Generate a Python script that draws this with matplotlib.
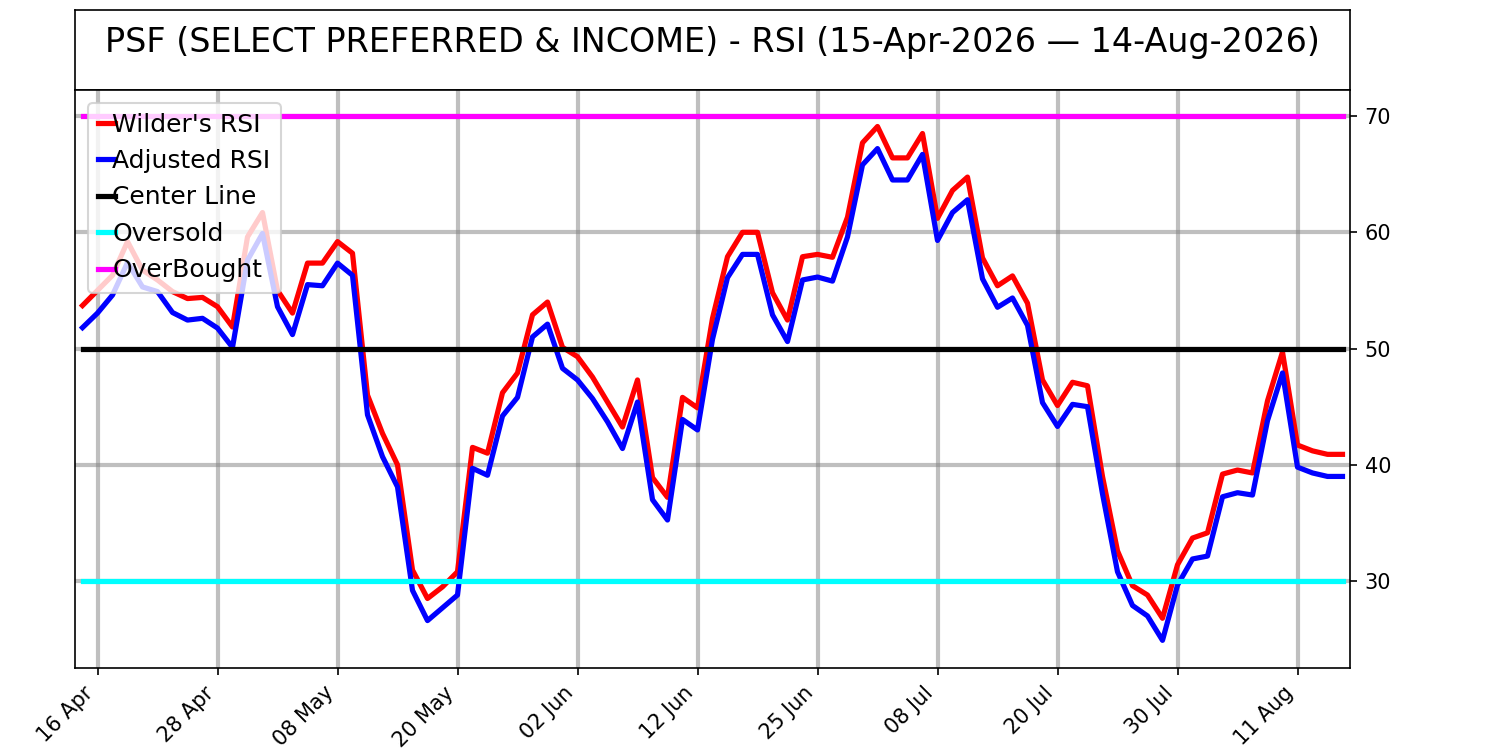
import matplotlib
matplotlib.use("Agg")

import matplotlib.pyplot as plt
import pandas as pd

# ==============================
# DATA
# ==============================
start_date = "2026-04-15"
end_date = "2026-08-14"
market_holidays = ["2026-05-25", "2026-06-19", "2026-07-03"]

wilder_rsi = [
    53.7, 55.0, 56.3, 59.2, 56.75, 55.9, 54.9, 54.3, 54.4, 53.6, 51.85, 59.6, 61.7, 55.0, 53.05,
    57.35, 57.35, 59.2, 58.2, 46.0, 42.7, 40.0, 30.95, 28.5, 29.5, 30.8, 41.5, 41.0,
    46.2, 47.9, 52.9, 54.0, 50.1, 49.3, 47.55, 45.4, 43.25, 47.3, 38.9, 37.2, 45.8, 44.9, 52.6,
    57.9, 60.0, 60.0, 54.8, 52.45, 57.9, 58.1, 57.85, 61.3, 67.7, 69.1, 66.4, 66.4, 68.5,
    61.2, 63.6, 64.75, 57.8, 55.4, 56.25, 53.9, 47.3, 45.1, 47.1, 46.8, 39.0, 32.6,
    29.6, 28.8, 26.8, 31.4, 33.7, 34.15, 39.2, 39.55, 39.3, 45.5, 49.7, 41.7, 41.2, 40.9, 40.9,
]

adjusted_rsi = [
    51.8, 53.05, 54.6, 57.4, 55.3, 54.9, 53.1, 52.45, 52.6, 51.76, 50.1, 57.6, 59.9, 53.6, 51.2,
    55.5, 55.4, 57.35, 56.3, 44.3, 40.7, 38.1, 29.2, 26.6, 27.7, 28.8, 39.7, 39.1,
    44.2, 45.8, 51.0, 52.1, 48.3, 47.3, 45.7, 43.7, 41.4, 45.4, 37.0, 35.25, 43.9, 43.0, 50.8,
    56.1, 58.1, 58.1, 52.9, 50.6, 55.9, 56.15, 55.8, 59.6, 65.8, 67.2, 64.5, 64.5, 66.7,
    59.3, 61.7, 62.8, 56.0, 53.55, 54.35, 52.0, 45.35, 43.3, 45.2, 45.0, 37.5, 30.8,
    27.9, 27.0, 24.9, 29.65, 31.9, 32.15, 37.25, 37.6, 37.4, 43.8, 47.9, 39.8, 39.3, 39.0, 39.0,
]

center_level = 50
oversold_level = 30
overbought_level = 70

# trading days (US market calendar)
dates = pd.bdate_range(start_date, end_date, freq="C", holidays=market_holidays)
x = list(range(len(dates)))
n = len(x)

# ==============================
# FIGURE
# ==============================
fig = plt.figure(figsize=(10, 5), dpi=150)

# title box
ax_t = fig.add_axes([0.05, 0.88, 0.85, 0.1067])
ax_t.set_xticks([])
ax_t.set_yticks([])
ax_t.text(
    0.5, 0.48,
    "PSF (SELECT PREFERRED & INCOME) - RSI (15-Apr-2026 \u2014 14-Aug-2026)",
    ha="center", va="baseline", fontsize=16, transform=ax_t.transAxes
)

ax = fig.add_axes([0.05, 0.1093, 0.85, 0.7707])

ax.plot(x, wilder_rsi, color="red", lw=2.5, label="Wilder's RSI")
ax.plot(x, adjusted_rsi, color="blue", lw=2.5, label="Adjusted RSI")
ax.plot(x, [center_level] * n, color="black", lw=2.5, label="Center Line")
ax.plot(x, [oversold_level] * n, color="cyan", lw=2.5, label="Oversold")
ax.plot(x, [overbought_level] * n, color="magenta", lw=2.5, label="OverBought")

# ==============================
# AXES
# ==============================
tick_pos = x[1::8]
ax.set_xticks(tick_pos)
ax.set_xticklabels([dates[i].strftime("%d %b") for i in tick_pos], rotation=45, ha="right")
ax.set_xlim(-0.5, n - 0.5)

ax.set_ylim(22.52, 72.24)
ax.set_yticks([30, 40, 50, 60, 70])
ax.yaxis.tick_right()

ax.grid(True, color="gray", alpha=0.5, lw=2)

ax.legend(loc="upper left", handlelength=0.7, handletextpad=-0.1, fontsize=12)

plt.savefig("out.png", dpi=150)
plt.close()
